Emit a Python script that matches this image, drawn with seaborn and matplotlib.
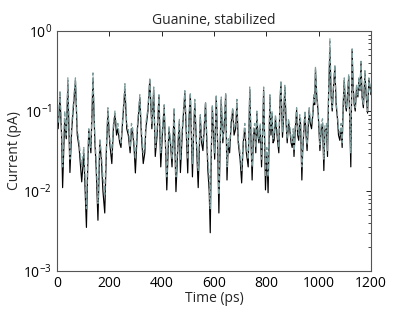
import pandas as pd
import matplotlib
matplotlib.use("Agg")
import matplotlib.pyplot as plt
import seaborn as sns

# ---------------- DATA ----------------
time_ps = [0, 5, 12, 18, 22, 30, 36, 42, 50, 57, 64, 71, 78, 85, 95, 103, 113, 118, 122, 130,
           138, 145, 150, 157, 164, 170, 176, 183, 189, 195, 202, 210, 216, 222, 228, 233, 240, 245, 252, 260,
           267, 273, 280, 285, 290, 295, 300, 308, 317, 323, 330, 336, 340, 348, 355, 363, 370, 376, 383, 390,
           397, 403, 410, 416, 420, 428, 434, 440, 448, 455, 463, 468, 472, 480, 489, 495, 500, 505, 510, 518,
           523, 527, 533, 540, 548, 553, 558, 563, 568, 572, 577, 582, 586, 590, 594, 599, 603, 609, 614, 619,
           624, 628, 634, 640, 645, 650, 655, 660, 666, 672, 677, 683, 688, 693, 700, 706, 712, 718, 724, 731,
           737, 742, 746, 751, 756, 760, 764, 768, 772, 777, 782, 786, 790, 794, 797, 802, 807, 811, 814, 818,
           822, 826, 830, 835, 839, 844, 848, 852, 856, 862, 866, 871, 876, 880, 885, 890, 895, 899, 903, 906,
           911, 916, 920, 924, 928, 931, 936, 939, 944, 948, 952, 956, 960, 964, 968, 973, 978, 982, 985, 988,
           993, 998, 1002, 1005, 1010, 1015, 1020, 1024, 1030, 1034, 1038, 1043, 1048, 1052, 1057, 1062, 1067, 1072, 1076, 1081,
           1086, 1090, 1094, 1098, 1102, 1106, 1110, 1115, 1120, 1123, 1128, 1132, 1136, 1140, 1145, 1150, 1154, 1158, 1162, 1166,
           1171, 1177, 1182, 1187, 1192, 1196, 1200]

current_solid = [0.10, 0.06, 0.15, 0.05, 0.011, 0.08, 0.045, 0.22, 0.017, 0.06, 0.12, 0.24, 0.05, 0.035, 0.013, 0.03, 0.0035, 0.02, 0.058, 0.03,
                 0.25, 0.043, 0.02, 0.0043, 0.04, 0.025, 0.01, 0.0053, 0.03, 0.10, 0.04, 0.022, 0.06, 0.094, 0.05, 0.06, 0.04, 0.035, 0.08, 0.19,
                 0.06, 0.05, 0.03, 0.06, 0.053, 0.035, 0.0168, 0.06, 0.146, 0.05, 0.022, 0.03, 0.06, 0.10, 0.244, 0.06, 0.183, 0.027, 0.05, 0.15,
                 0.02, 0.05, 0.11, 0.03, 0.0103, 0.058, 0.04, 0.02, 0.097, 0.0098, 0.04, 0.07, 0.017, 0.06, 0.168, 0.05, 0.0168, 0.08, 0.16, 0.015,
                 0.06, 0.126, 0.04, 0.011, 0.084, 0.04, 0.032, 0.06, 0.126, 0.05, 0.018, 0.01, 0.003, 0.03, 0.112, 0.05, 0.025, 0.15, 0.04, 0.0053,
                 0.04, 0.137, 0.04, 0.07, 0.159, 0.0137, 0.04, 0.03, 0.07, 0.103, 0.05, 0.06, 0.126, 0.04, 0.025, 0.0126, 0.04, 0.06, 0.03, 0.02,
                 0.183, 0.04, 0.0137, 0.05, 0.06, 0.03, 0.094, 0.05, 0.04, 0.06, 0.02, 0.05, 0.183, 0.04, 0.0103, 0.03, 0.0095, 0.05, 0.15, 0.05,
                 0.09, 0.04, 0.043, 0.08, 0.06, 0.04, 0.03, 0.12, 0.224, 0.047, 0.08, 0.20, 0.07, 0.04, 0.07, 0.058, 0.04, 0.035, 0.05, 0.027,
                 0.06, 0.103, 0.05, 0.043, 0.08, 0.07, 0.0137, 0.03, 0.06, 0.09, 0.05, 0.032, 0.06, 0.103, 0.07, 0.06, 0.09, 0.15, 0.12, 0.33,
                 0.15, 0.10, 0.05, 0.032, 0.06, 0.07, 0.018, 0.058, 0.06, 0.027, 0.15, 0.60, 0.15, 0.10, 0.20, 0.355, 0.12, 0.08, 0.05, 0.043,
                 0.06, 0.035, 0.12, 0.244, 0.12, 0.10, 0.15, 0.27, 0.05, 0.02, 0.58, 0.20, 0.12, 0.10, 0.20, 0.15, 0.25, 0.18, 0.40, 0.15,
                 0.11, 0.30, 0.15, 0.094, 0.25, 0.20, 0.16]

current_dashed = [0.12, 0.07, 0.18, 0.06, 0.02, 0.10, 0.05, 0.26, 0.025, 0.07, 0.14, 0.26, 0.06, 0.04, 0.02, 0.035, 0.006, 0.025, 0.06, 0.035,
                  0.30, 0.05, 0.025, 0.007, 0.045, 0.03, 0.015, 0.009, 0.035, 0.11, 0.045, 0.03, 0.07, 0.10, 0.06, 0.07, 0.045, 0.04, 0.09, 0.22,
                  0.07, 0.06, 0.035, 0.07, 0.06, 0.04, 0.025, 0.07, 0.16, 0.06, 0.03, 0.035, 0.07, 0.11, 0.26, 0.07, 0.20, 0.035, 0.06, 0.16,
                  0.03, 0.06, 0.12, 0.035, 0.015, 0.065, 0.045, 0.025, 0.11, 0.015, 0.045, 0.08, 0.025, 0.07, 0.18, 0.06, 0.025, 0.09, 0.17, 0.022,
                  0.07, 0.14, 0.045, 0.018, 0.09, 0.045, 0.04, 0.07, 0.13, 0.06, 0.025, 0.015, 0.006, 0.035, 0.12, 0.06, 0.03, 0.16, 0.045, 0.009,
                  0.045, 0.15, 0.045, 0.08, 0.17, 0.02, 0.045, 0.035, 0.08, 0.11, 0.06, 0.07, 0.14, 0.045, 0.03, 0.018, 0.045, 0.07, 0.035, 0.025,
                  0.20, 0.045, 0.02, 0.06, 0.07, 0.035, 0.10, 0.06, 0.045, 0.07, 0.025, 0.06, 0.20, 0.045, 0.015, 0.035, 0.015, 0.06, 0.16, 0.06,
                  0.10, 0.045, 0.05, 0.09, 0.07, 0.045, 0.035, 0.13, 0.24, 0.055, 0.09, 0.21, 0.08, 0.045, 0.08, 0.065, 0.045, 0.04, 0.06, 0.032,
                  0.07, 0.11, 0.06, 0.05, 0.09, 0.08, 0.02, 0.035, 0.07, 0.10, 0.06, 0.038, 0.07, 0.11, 0.08, 0.07, 0.10, 0.16, 0.13, 0.36,
                  0.16, 0.11, 0.06, 0.038, 0.07, 0.08, 0.025, 0.065, 0.07, 0.032, 0.17, 0.80, 0.17, 0.11, 0.22, 0.38, 0.13, 0.09, 0.06, 0.05,
                  0.07, 0.04, 0.13, 0.26, 0.13, 0.11, 0.16, 0.29, 0.06, 0.03, 0.60, 0.22, 0.13, 0.11, 0.21, 0.16, 0.26, 0.19, 0.42, 0.16,
                  0.12, 0.32, 0.16, 0.10, 0.26, 0.21, 0.17]

df = pd.DataFrame({"time": time_ps, "solid": current_solid, "dashed": current_dashed})

# ---------------- STYLE ----------------
sns.set_style("white")
plt.rcParams["font.family"] = ["Open Sans", "DejaVu Sans"]
plt.rcParams["mathtext.fontset"] = "dejavusans"

fig = plt.figure(figsize=(4.09, 3.11), dpi=100)
ax = fig.add_axes([0.139, 0.129, 0.768, 0.771])

sns.lineplot(x="time", y="solid", data=df, ax=ax, color="black", linewidth=0.85,
             estimator=None, sort=False)
sns.lineplot(x="time", y="dashed", data=df, ax=ax, color="#7f9c9c", linewidth=0.9,
             linestyle="--", estimator=None, sort=False)

ax.set_yscale("log")
ax.set_xlim(0, 1200)
ax.set_ylim(1e-3, 1e0)
ax.set_xticks([0, 200, 400, 600, 800, 1000, 1200])
ax.tick_params(axis="both", which="both", direction="in", top=True, right=True,
               labelsize=10, colors="black")
ax.tick_params(which="major", length=3.5, width=0.6)
ax.tick_params(which="minor", length=2, width=0.5)
for s in ax.spines.values():
    s.set_color("#555555")
    s.set_linewidth(0.8)

ax.set_xlabel("Time (ps)", fontsize=10, labelpad=0)
ax.set_ylabel("Current (pA)", fontsize=10, labelpad=1)
ax.set_title("Guanine, stabilized", fontsize=10, pad=5)

fig.savefig("out.png", dpi=100)
